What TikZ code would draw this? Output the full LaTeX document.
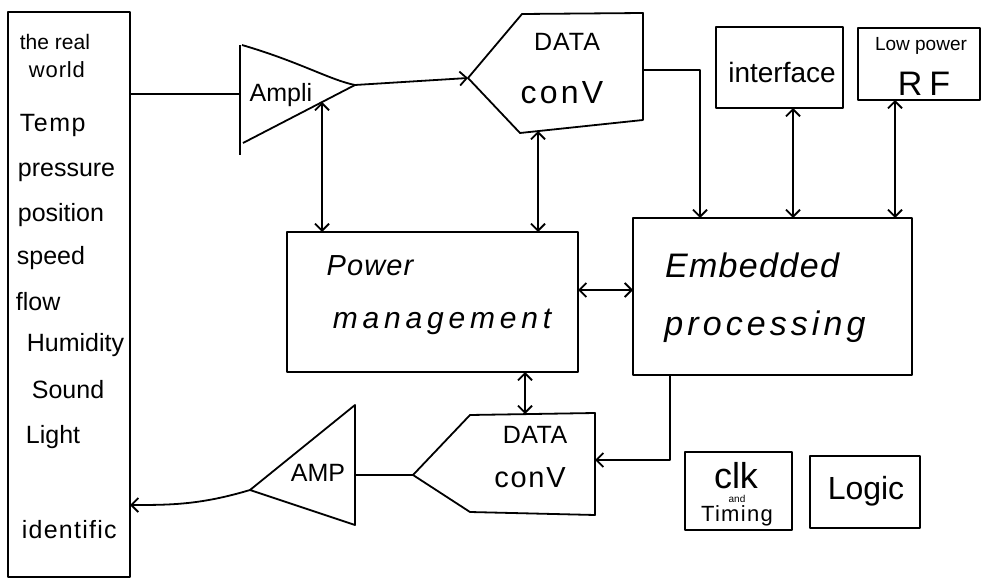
\documentclass[tikz,border=0pt]{standalone}
\usepackage{fontspec}
\setmainfont{Liberation Sans}
\usetikzlibrary{arrows.meta}
\newcommand{\fsz}[2]{\fontsize{#1}{#1}\selectfont\addfontfeatures{LetterSpace=#2}}
\begin{document}
\begin{tikzpicture}[x=1pt,y=-1pt,line width=1.8pt,line join=round,
  box/.style={draw,line width=1.8pt,inner sep=0pt,outer sep=0pt,anchor=north west},
  arr/.style={-{Straight Barb[length=7pt,width=14pt]}},
  darr/.style={{Straight Barb[length=7pt,width=14pt]}-{Straight Barb[length=7pt,width=14pt]}},
  lbl/.style={inner sep=0pt,font=\fsz{24}{0}},
  col/.style={inner sep=0pt,anchor=west,font=\fsz{25}{0}},
  big/.style={inner sep=0pt,font=\itshape\fsz{34}{12}}]
\useasboundingbox (0,0) rectangle (986,580);
% left column
\node[box,minimum width=122pt,minimum height=565pt] (world) at (8,12) {};
\node[col,font=\fsz{21}{0}] (t1) at (19,42) {the real};
\node[col,font=\fsz{22}{4}] (t2) at (28,70) {world};
\node[col,font=\fsz{25}{6}] (t3) at (19,125) {Temp};
\node[col] (t4) at (17,172) {pressure};
\node[col] (t5) at (17,215) {position};
\node[col] (t6) at (16,258) {speed};
\node[col] (t7) at (15,302) {flow};
\node[col] (t8) at (26,345) {Humidity};
\node[col] (t9) at (31,390) {Sound};
\node[col] (t10) at (25,437) {Light};
\node[col,font=\fsz{25}{5}] (t11) at (21,530) {identific};
% Ampli
\draw (240,45) -- (240,155);
\draw (242,45) .. controls (300,62) and (330,80) .. (355,85);
\draw (243,143) -- (355,85);
\coordinate (ampIn) at (240,94);
\coordinate (ampOut) at (355,85);
\coordinate (ampBot) at (322,102);
\node[lbl,font=\fsz{25}{0}] (ampli) at (281,95) {Ampli};
% DATA conv top
\draw (468,78) -- (522,14) -- (643,13) -- (643,120) -- (520,133) -- cycle;
\coordinate (dcIn) at (468,78);
\coordinate (dcOut) at (643,70);
\coordinate (dcBot) at (538,131);
\node[lbl,font=\fsz{25}{4}] (dc1) at (567,42) {DATA};
\node[lbl,font=\fsz{32}{10}] (dc2) at (562,93) {conV};
% interface and RF
\node[box,minimum width=127pt,minimum height=81pt] (iface) at (716,27) {};
\node[lbl,font=\fsz{28}{0}] (ifl) at (782,72) {interface};
\node[box,minimum width=122pt,minimum height=72pt] (rf) at (858,28) {};
\node[lbl,font=\fsz{19}{0}] (rf1) at (921,46) {Low power};
\node[lbl,font=\fsz{34}{20}] (rf2) at (924,84) {RF};
% Embedded processing
\node[box,minimum width=279pt,minimum height=157pt] (emb) at (633,218) {};
\node[big,font=\itshape\fsz{34}{4}] (e1) at (752,265) {Embedded};
\node[big] (e2) at (765,327) {processing};
% Power management
\node[box,minimum width=291pt,minimum height=140pt] (pm) at (287,232) {};
\node[big,font=\itshape\fsz{29}{4}] (p1) at (370,266) {Power};
\node[big,font=\itshape\fsz{30}{16}] (p2) at (442,322) {management};
% DATA conv bottom
\draw (413,475) -- (470,415) -- (595,413) -- (595,515) -- (470,512) -- cycle;
\coordinate (ldcIn) at (413,475);
\coordinate (ldcTop) at (525,414);
\coordinate (ldcR) at (595,460);
\node[lbl,font=\fsz{25}{2}] (l1) at (535,435) {DATA};
\node[lbl,font=\fsz{29}{6}] (l2) at (530,478) {conV};
% AMP
\draw (355,405) -- (355,525) -- (250,490) -- cycle;
\coordinate (ampR) at (355,475);
\coordinate (ampTip) at (250,490);
\node[lbl,font=\fsz{25}{0}] (ampt) at (318,473) {AMP};
% clk and Logic
\node[box,minimum width=107pt,minimum height=78pt] (clk) at (685,452) {};
\node[lbl,font=\fsz{36}{0}] (c1) at (736,476) {clk};
\node[lbl,font=\fsz{10}{0}] (c2) at (737,499) {and};
\node[lbl,font=\fsz{22}{6}] (c3) at (737,516) {Timing};
\node[box,minimum width=110pt,minimum height=72pt] (logic) at (810,456) {};
\node[lbl,font=\fsz{32}{0}] (lg) at (866,491) {Logic};
% connectors
\draw (world.east |- ampIn) -- (ampIn);
\draw[arr] (ampOut) -- (dcIn);
\draw[darr] (ampBot) -- (ampBot |- pm.north);
\draw[darr] (dcBot) -- (dcBot |- pm.north);
\coordinate (k1) at (700,70);
\draw[arr] (dcOut) -- (k1) -- (k1 |- emb.north);
\draw[darr] ([xshift=13.5pt]iface.south) -- ([xshift=13.5pt]iface.south |- emb.north);
\draw[darr] ([xshift=-24pt]rf.south) -- ([xshift=-24pt]rf.south |- emb.north);
\draw[darr] ([yshift=12pt]pm.east) -- ([yshift=12pt]pm.east -| emb.west);
\draw[darr] (ldcTop |- pm.south) -- (ldcTop);
\coordinate (k2) at (670,460);
\draw[arr] (k2 |- emb.south) -- (k2) -- (ldcR);
\draw (ampR) -- (ldcIn);
\draw[arr] (ampTip) .. controls (200,505) and (170,505) .. (world.east |- 0,505);
\end{tikzpicture}
\end{document}
